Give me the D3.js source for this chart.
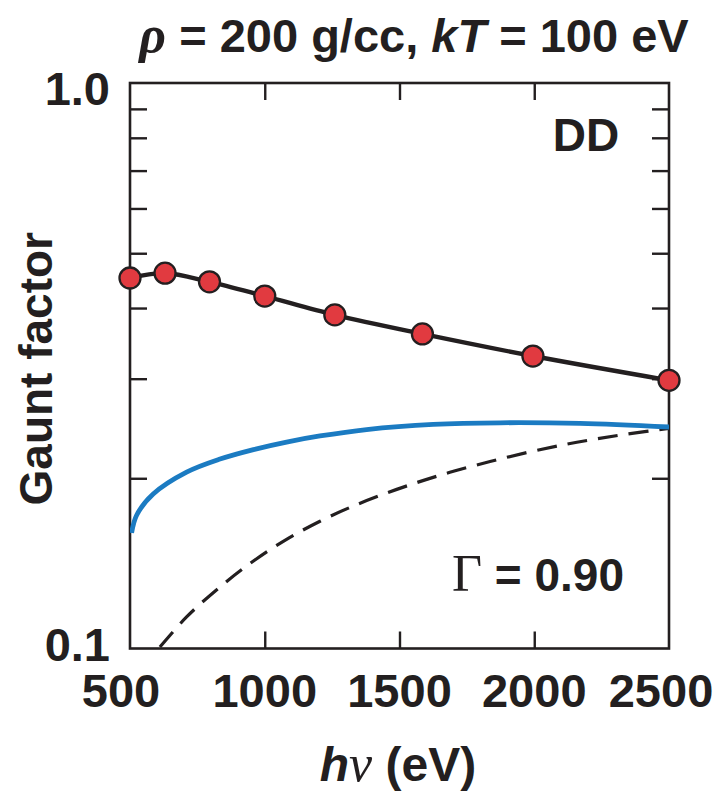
<!DOCTYPE html>
<html>
<head>
<meta charset="utf-8">
<script src="https://cdn.jsdelivr.net/npm/d3@7"></script>
<style>
  html, body { margin: 0; padding: 0; background: #fff; }
  svg { display: block; font-family: "Liberation Sans", Arial, Helvetica, sans-serif; }
</style>
</head>
<body>
<svg id="chart" width="723" height="793"></svg>
<script>
// Photon energy grid (eV) of the computed DD points and their Gaunt factors
const pointEnergy = [500, 630, 795, 1000, 1260, 1585, 1995, 2500];
const pointGaunt  = [0.452, 0.461, 0.445, 0.420, 0.389, 0.360, 0.329, 0.298];

// Blue (solid) model curve
const blueEnergy = [506, 525, 586, 710, 834, 958, 1081, 1205, 1378, 1625, 1873, 2170, 2500];
const blueGaunt  = [0.1601, 0.1722, 0.1876, 0.2051, 0.2163, 0.2248, 0.2318, 0.2376, 0.2439, 0.2490, 0.2507, 0.2500, 0.2464];

// Dashed model curve
const dashEnergy = [611, 710, 834, 958, 1081, 1205, 1316, 1440, 1564, 1687, 1836, 1984, 2108, 2219, 2343, 2500];
const dashGaunt  = [0.1006, 0.1137, 0.1285, 0.1428, 0.1560, 0.1679, 0.1776, 0.1874, 0.1965, 0.2049, 0.2141, 0.2227, 0.2292, 0.2343, 0.2394, 0.2451];

// Axis ticks
const xTickValues = [500, 1000, 1500, 2000, 2500];
const yMinorTicks = [0.2, 0.3, 0.4, 0.5, 0.6, 0.7, 0.8, 0.9];
const yLabelValues = [0.1, 1.0];

const svg = d3.select("#chart");
const plotL = 130, plotR = 669, plotT = 83, plotB = 648.5;
const ink = "#231f20";

const x = d3.scaleLinear().domain([500, 2500]).range([plotL, plotR]);
const y = d3.scaleLog().domain([0.1, 1.0]).range([plotB, plotT]);

// clip for curves
svg.append("defs").append("clipPath").attr("id", "plotClip")
  .append("rect").attr("x", plotL).attr("y", plotT)
  .attr("width", plotR - plotL).attr("height", plotB - plotT);

const tickLen = 17;

// Inward ticks on all four sides (no labels on the interior ones)
const innerX = xTickValues.slice(1, -1);
svg.append("g").attr("transform", `translate(0,${plotB})`)
  .call(d3.axisTop(x).tickValues(innerX).tickSize(tickLen).tickFormat(""))
  .call(g => g.select(".domain").remove());
svg.append("g").attr("transform", `translate(0,${plotT})`)
  .call(d3.axisBottom(x).tickValues(innerX).tickSize(tickLen).tickFormat(""))
  .call(g => g.select(".domain").remove());
svg.append("g").attr("transform", `translate(${plotL},0)`)
  .call(d3.axisRight(y).tickValues(yMinorTicks).tickSize(tickLen).tickFormat(""))
  .call(g => g.select(".domain").remove());
svg.append("g").attr("transform", `translate(${plotR},0)`)
  .call(d3.axisLeft(y).tickValues(yMinorTicks).tickSize(tickLen).tickFormat(""))
  .call(g => g.select(".domain").remove());
svg.selectAll(".tick line").attr("stroke", ink).attr("stroke-width", 2.4);

// Frame
svg.append("rect").attr("x", plotL).attr("y", plotT)
  .attr("width", plotR - plotL).attr("height", plotB - plotT)
  .attr("fill", "none").attr("stroke", ink).attr("stroke-width", 2.6);

// X tick labels
const xLabelShift = {500: -9, 2500: -8};
svg.append("g").selectAll("text").data(xTickValues).join("text")
  .attr("x", d => x(d) + (xLabelShift[d] || 0))
  .attr("y", 707)
  .attr("text-anchor", "middle")
  .attr("font-size", 47).attr("font-weight", "bold").attr("fill", ink)
  .text(d => d);

// Y tick labels
svg.append("g").selectAll("text").data(yLabelValues).join("text")
  .attr("x", 110)
  .attr("y", d => y(d) + (d === 1 ? 22 : 12))
  .attr("text-anchor", "end")
  .attr("font-size", 47).attr("font-weight", "bold").attr("fill", ink)
  .text(d => d3.format(".1f")(d));

// Curves
const lineGen = d3.line()
  .x(d => x(d[0])).y(d => y(d[1]))
  .curve(d3.curveCatmullRom.alpha(0.5));

const plot = svg.append("g").attr("clip-path", "url(#plotClip)");

plot.append("path")
  .attr("d", lineGen(d3.zip(dashEnergy, dashGaunt)))
  .attr("fill", "none").attr("stroke", ink)
  .attr("stroke-width", 3.2).attr("stroke-dasharray", "20,11");

plot.append("path")
  .attr("d", lineGen(d3.zip(blueEnergy, blueGaunt)))
  .attr("fill", "none").attr("stroke", "#1b7bc2")
  .attr("stroke-width", 4.8).attr("stroke-linecap", "butt");

svg.append("path")
  .attr("d", lineGen(d3.zip(pointEnergy, pointGaunt)))
  .attr("fill", "none").attr("stroke", ink)
  .attr("stroke-width", 4.4);

svg.append("g").selectAll("circle").data(d3.zip(pointEnergy, pointGaunt)).join("circle")
  .attr("cx", d => x(d[0])).attr("cy", d => y(d[1]))
  .attr("r", 10.5)
  .attr("fill", "#e13a40").attr("stroke", ink).attr("stroke-width", 2.3);

// Title
const title = svg.append("text")
  .attr("x", 414).attr("y", 52)
  .attr("text-anchor", "middle")
  .attr("font-size", 47).attr("font-weight", "bold").attr("fill", ink);
title.append("tspan").attr("font-style", "italic").attr("font-family", "'Liberation Serif', serif").attr("font-size", 52).text("ρ");
title.append("tspan").text(" = 200 g/cc, ");
title.append("tspan").attr("font-style", "italic").text("kT");
title.append("tspan").text(" = 100 eV");

// Panel labels
svg.append("text").attr("x", 586).attr("y", 151)
  .attr("text-anchor", "middle")
  .attr("font-size", 46).attr("font-weight", "bold").attr("fill", ink)
  .text("DD");

const gam = svg.append("text").attr("x", 538).attr("y", 591)
  .attr("text-anchor", "middle").attr("fill", ink);
gam.append("tspan").attr("font-family", "'Liberation Serif', serif").attr("font-size", 52).text("Γ");
gam.append("tspan").attr("font-size", 46).attr("font-weight", "bold").text(" = 0.90");

// Axis titles
svg.append("text")
  .attr("transform", `translate(52,${(plotT + plotB) / 2 + 3}) rotate(-90)`)
  .attr("text-anchor", "middle")
  .attr("font-size", 46).attr("font-weight", "bold").attr("fill", ink)
  .text("Gaunt factor");

const xt = svg.append("text").attr("x", 398).attr("y", 781)
  .attr("text-anchor", "middle").attr("font-size", 48).attr("fill", ink);
xt.append("tspan").attr("font-weight", "bold").attr("font-style", "italic").text("h");
xt.append("tspan").attr("font-family", "'Liberation Serif', serif").attr("font-style", "italic").attr("font-size", 52).text("ν");
xt.append("tspan").attr("font-weight", "bold").text(" (eV)");
</script>
</body>
</html>
